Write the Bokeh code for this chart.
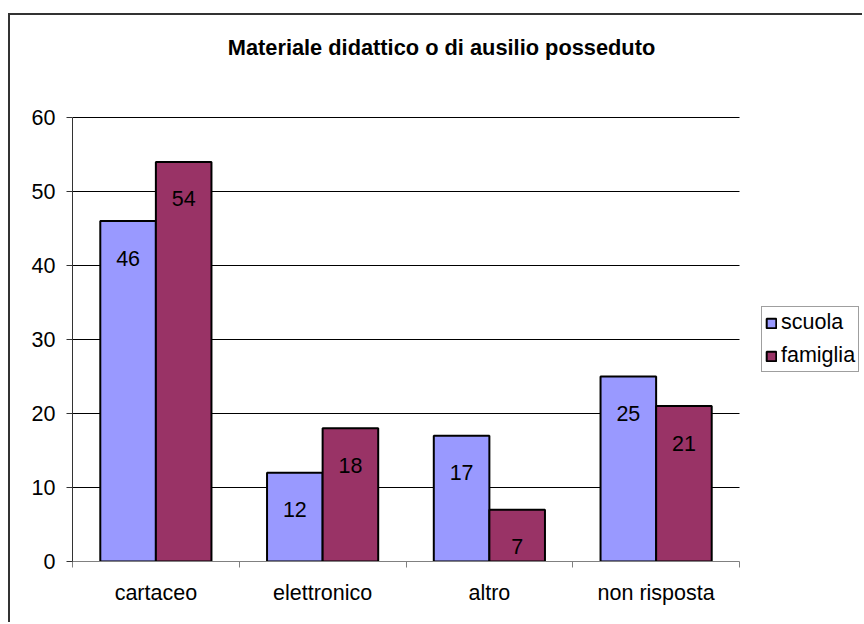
from bokeh.plotting import figure
from bokeh.models import (Range1d, FixedTicker, Legend, LegendItem, Label,
                          ColumnDataSource)
from bokeh.core.properties import value
from bokeh.embed import file_html
from bokeh.resources import INLINE
import numpy as np

# ---- data ----
categories = ["cartaceo", "elettronico", "altro", "non risposta"]
series_names = ["scuola", "famiglia"]
scuola = [46, 12, 17, 25]
famiglia = [54, 18, 7, 21]
y_ticks = [0, 10, 20, 30, 40, 50, 60]
title_text = "Materiale didattico o di ausilio posseduto"

# ---- styles ----
BLUE = "#9999FF"
MAROON = "#993366"
FONT = "Liberation Sans"
FS = "21.5px"
bar_w = 1 / 3
n = len(categories)
y_top = y_ticks[-1]
# the frame is enlarged to the right (legend) and to the top (title);
# the plot area itself is 667 x 444 px inside a 792 x 546 px frame
x_max = n * 792 / 667
y_max = y_top * 546 / 444

p = figure(width=854, height=609, output_backend="svg", toolbar_location=None,
           x_range=Range1d(0, x_max), y_range=Range1d(0, y_max),
           min_border_left=62, min_border_right=0, min_border_top=0,
           min_border_bottom=63)
p.margin = (13, 0, 0, 8)
p.styles = {"border-left": "2px solid #333333", "border-top": "2px solid #333333"}
p.outline_line_color = None
p.background_fill_color = "white"
p.border_fill_color = "white"

idx = np.arange(n)

# horizontal gridlines limited to the plot area
grid_y = y_ticks[1:]
p.segment(x0=[0] * len(grid_y), x1=[n] * len(grid_y), y0=grid_y, y1=grid_y,
          line_color="black", line_width=1)

src_s = ColumnDataSource(dict(x=idx + 1 / 3, top=scuola, lab=[str(v) for v in scuola]))
src_f = ColumnDataSource(dict(x=idx + 2 / 3, top=famiglia, lab=[str(v) for v in famiglia]))

r_s = p.vbar(x="x", top="top", width=bar_w, bottom=0, source=src_s,
             fill_color=BLUE, line_color="black", line_width=2)
r_f = p.vbar(x="x", top="top", width=bar_w, bottom=0, source=src_f,
             fill_color=MAROON, line_color="black", line_width=2)

for src in (src_s, src_f):
    p.text(x="x", y="top", text="lab", source=src, text_align="center",
           text_baseline="middle", y_offset=37, text_color="black",
           text_font=value(FONT), text_font_size=FS)

# y axis
p.yaxis.bounds = (0, y_top)
p.yaxis.ticker = FixedTicker(ticks=y_ticks)
p.yaxis.major_tick_out = 6
p.yaxis.major_tick_in = 0
p.yaxis.minor_tick_line_color = None
p.yaxis.axis_line_color = "#333333"
p.yaxis.major_tick_line_color = "#333333"
p.yaxis.major_label_text_font = FONT
p.yaxis.major_label_text_font_size = FS
p.yaxis.major_label_text_color = "black"
p.yaxis.major_label_standoff = 11

# x axis
p.xaxis.bounds = (0, n)
p.xaxis.ticker = FixedTicker(ticks=list(idx + 0.5), minor_ticks=list(range(n + 1)))
p.xaxis.major_label_overrides = {float(i + 0.5): c for i, c in enumerate(categories)}
p.xaxis.major_tick_out = 0
p.xaxis.major_tick_in = 0
p.xaxis.minor_tick_out = 6
p.xaxis.minor_tick_in = 0
p.xaxis.minor_tick_line_color = "#808080"
p.xaxis.axis_line_color = "#808080"
p.xaxis.major_label_text_font = FONT
p.xaxis.major_label_text_font_size = FS
p.xaxis.major_label_text_color = "black"
p.xaxis.major_label_standoff = 13

p.xgrid.grid_line_color = None
p.ygrid.grid_line_color = None

# title (screen units relative to the frame's bottom-left corner)
title = Label(x=369, y=514, x_units="screen", y_units="screen", text=title_text,
              text_align="center", text_baseline="middle",
              text_font=FONT, text_font_size="21.8px", text_font_style="bold",
              text_color="black")
p.add_layout(title, "center")

# legend
legend = Legend(items=[LegendItem(label=series_names[0], renderers=[r_s]),
                       LegendItem(label=series_names[1], renderers=[r_f])],
                location=(689, 189), orientation="vertical",
                glyph_width=12, glyph_height=12, label_standoff=4,
                label_text_font=FONT, label_text_font_size=FS,
                label_text_color="black", padding=3, spacing=8, margin=0,
                border_line_color="#404040", border_line_width=1,
                background_fill_color="white", background_fill_alpha=1)
p.add_layout(legend, "center")

open("out.html", "w").write(file_html(p, INLINE))
